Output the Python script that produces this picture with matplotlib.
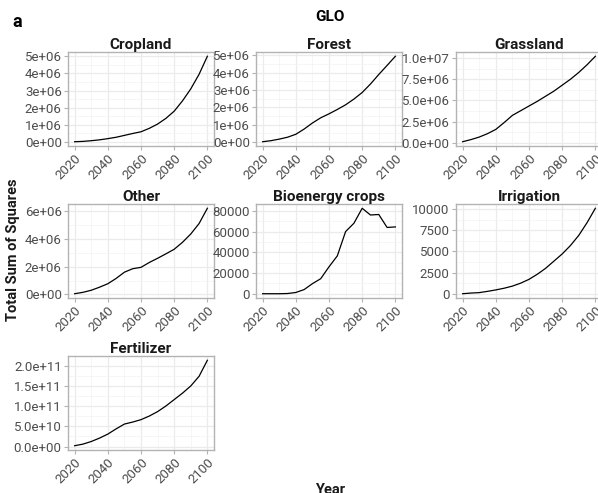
import numpy as np
import matplotlib
matplotlib.use("Agg")
import matplotlib.pyplot as plt
from matplotlib.ticker import FixedLocator

plt.rcParams['font.family'] = ['Roboto', 'DejaVu Sans']

years = [2020, 2025, 2030, 2035, 2040, 2045, 2050, 2055, 2060,
         2065, 2070, 2075, 2080, 2085, 2090, 2095, 2100]

cropland = [0.02e6, 0.04e6, 0.08e6, 0.13e6, 0.2e6, 0.28e6, 0.39e6, 0.5e6, 0.6e6,
            0.8e6, 1.05e6, 1.38e6, 1.8e6, 2.4e6, 3.1e6, 3.95e6, 5.0e6]
forest = [0.02e6, 0.08e6, 0.17e6, 0.28e6, 0.45e6, 0.75e6, 1.1e6, 1.4e6, 1.63e6,
          1.88e6, 2.15e6, 2.48e6, 2.86e6, 3.35e6, 3.9e6, 4.42e6, 4.95e6]
grassland = [0.15e6, 0.4e6, 0.7e6, 1.1e6, 1.6e6, 2.4e6, 3.25e6, 3.8e6, 4.35e6,
             4.9e6, 5.5e6, 6.1e6, 6.8e6, 7.5e6, 8.3e6, 9.2e6, 10.2e6]
other = [0.05e6, 0.15e6, 0.3e6, 0.52e6, 0.77e6, 1.15e6, 1.6e6, 1.85e6, 1.95e6,
         2.3e6, 2.6e6, 2.92e6, 3.25e6, 3.75e6, 4.35e6, 5.1e6, 6.2e6]
bioenergy = [0, 0, 0, 200, 1200, 4000, 9700, 14500, 26000,
             36500, 60000, 68000, 82500, 76000, 76500, 64000, 64500]
irrigation = [0, 80, 130, 280, 450, 650, 900, 1250, 1700,
              2300, 3000, 3850, 4700, 5700, 6900, 8400, 10100]
fertilizer = [0.2e10, 0.6e10, 1.25e10, 2.1e10, 3.1e10, 4.4e10, 5.6e10, 6.1e10, 6.7e10,
              7.6e10, 8.7e10, 10.1e10, 11.7e10, 13.3e10, 15.1e10, 17.5e10, 21.5e10]

x_ticks = [2020, 2040, 2060, 2080, 2100]

panels = [
    ("Cropland", cropland, [0, 1e6, 2e6, 3e6, 4e6, 5e6],
     ["0e+00", "1e+06", "2e+06", "3e+06", "4e+06", "5e+06"]),
    ("Forest", forest, [0, 1e6, 2e6, 3e6, 4e6, 5e6],
     ["0e+00", "1e+06", "2e+06", "3e+06", "4e+06", "5e+06"]),
    ("Grassland", grassland, [0, 2.5e6, 5e6, 7.5e6, 1e7],
     ["0.0e+00", "2.5e+06", "5.0e+06", "7.5e+06", "1.0e+07"]),
    ("Other", other, [0, 2e6, 4e6, 6e6],
     ["0e+00", "2e+06", "4e+06", "6e+06"]),
    ("Bioenergy crops", bioenergy, [0, 20000, 40000, 60000, 80000],
     ["0", "20000", "40000", "60000", "80000"]),
    ("Irrigation", irrigation, [0, 2500, 5000, 7500, 10000],
     ["0", "2500", "5000", "7500", "10000"]),
    ("Fertilizer", fertilizer, [0, 5e10, 1e11, 1.5e11, 2e11],
     ["0.0e+00", "5.0e+10", "1.0e+11", "1.5e+11", "2.0e+11"]),
]

W, H = 598, 493
fig = plt.figure(figsize=(W / 100, H / 100), dpi=100)

col_left = [68, 256, 456]
row_top = [52, 204, 356]
pw, ph = 146, 94

border = "#B3B3B3"
for i, (name, vals, yt, ylab) in enumerate(panels):
    r, c = divmod(i, 3)
    ax = fig.add_axes([col_left[c] / W, 1 - (row_top[r] + ph) / H, pw / W, ph / H])
    ax.plot(years, vals, color="black", lw=0.9)
    ax.set_xlim(2016, 2104)
    lo, hi = min(vals), max(vals)
    pad = (hi - lo) * 0.05
    ax.set_ylim(lo - pad, hi + pad)
    ax.xaxis.set_major_locator(FixedLocator(x_ticks))
    ax.xaxis.set_minor_locator(FixedLocator([2030, 2050, 2070, 2090]))
    ax.set_xticklabels([str(t) for t in x_ticks], rotation=45, ha="right",
                       va="top", rotation_mode="anchor")
    ax.yaxis.set_major_locator(FixedLocator(yt))
    step = yt[1] - yt[0]
    ax.yaxis.set_minor_locator(FixedLocator([v + step / 2 for v in [yt[0] - step] + yt]))
    ax.set_yticklabels(ylab)
    ax.grid(which="major", color="#EBEBEB", lw=0.9)
    ax.grid(which="minor", color="#F3F3F3", lw=0.5)
    ax.set_axisbelow(True)
    ax.tick_params(which="major", length=3, width=0.8, color=border,
                   labelsize=9.5, labelcolor="#4D4D4D", pad=1.5)
    ax.tick_params(which="minor", length=0)
    for s in ax.spines.values():
        s.set_color(border)
        s.set_linewidth(1.0)
    ax.set_title(name, fontsize=11, fontweight="bold", color="#1A1A1A", pad=2)

fig.text(330 / W, 1 - 17 / H, "GLO", ha="center", va="center",
         fontsize=11, fontweight="bold", color="black")
fig.text(12 / W, 1 - 22 / H, "a", ha="left", va="center",
         fontsize=13, fontweight="bold", color="black")
fig.text(330 / W, 1 - 490 / H, "Year", ha="center", va="center",
         fontsize=10.5, fontweight="bold", color="#1A1A1A")
fig.text(13 / W, 1 - 250 / H, "Total Sum of Squares", ha="center", va="center",
         rotation=90, fontsize=10.5, fontweight="bold", color="#1A1A1A")

fig.savefig("out.png", dpi=100)
